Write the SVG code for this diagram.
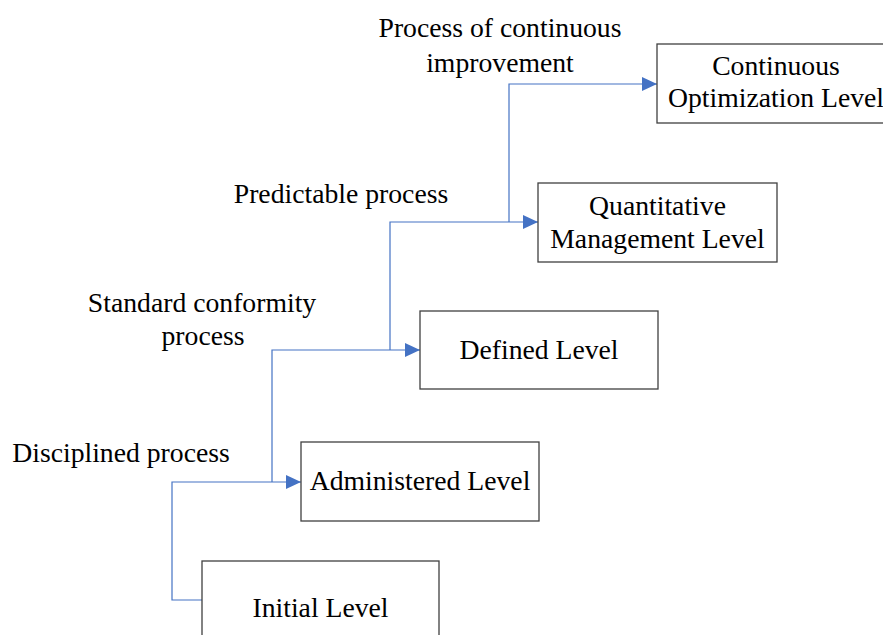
<svg xmlns="http://www.w3.org/2000/svg" width="883" height="635" viewBox="0 0 883 635">
<style>
.box{fill:#fff;stroke:#404040;stroke-width:1.3}
.t{font-family:"Liberation Serif","Times New Roman",serif;font-size:27.7px;fill:#000;text-anchor:middle}
.c{fill:none;stroke:#4472C4;stroke-width:1.2}
</style>
<defs>
<marker id="ah" markerUnits="userSpaceOnUse" markerWidth="16" markerHeight="16" viewBox="0 0 16 16" refX="15" refY="8" orient="auto">
<path d="M0,1 L15,8 L0,15 Z" fill="#4472C4"/>
</marker>
</defs>
<rect width="883" height="635" fill="#fff"/>
<g id="connectors">
<path class="c" d="M202,600 H172 V482 H301" marker-end="url(#ah)"/>
<path class="c" d="M272,482 V350 H420" marker-end="url(#ah)"/>
<path class="c" d="M390,350 V222 H538" marker-end="url(#ah)"/>
<path class="c" d="M509,222 V84 H657" marker-end="url(#ah)"/>
</g>
<g id="initial">
<rect class="box" x="202" y="561" width="237" height="80"/>
<text class="t" x="320.5" y="617">Initial Level</text>
</g>
<g id="administered">
<rect class="box" x="301" y="442" width="238" height="79"/>
<text class="t" x="420" y="490">Administered Level</text>
</g>
<g id="defined">
<rect class="box" x="420" y="311" width="238" height="78"/>
<text class="t" x="539" y="359">Defined Level</text>
</g>
<g id="quantitative">
<rect class="box" x="538" y="183" width="239" height="79"/>
<text class="t" x="657.5" y="215">Quantitative</text>
<text class="t" x="657.5" y="248">Management Level</text>
</g>
<g id="continuous">
<rect class="box" x="657" y="44" width="238" height="79"/>
<text class="t" x="776" y="75">Continuous</text>
<text class="t" x="776" y="107">Optimization Level</text>
</g>
<g id="labels">
<text class="t" x="121" y="462">Disciplined process</text>
<text class="t" x="202" y="312">Standard conformity</text>
<text class="t" x="203" y="345">process</text>
<text class="t" x="341" y="203">Predictable process</text>
<text class="t" x="500" y="37">Process of continuous</text>
<text class="t" x="500" y="72">improvement</text>
</g>
</svg>
